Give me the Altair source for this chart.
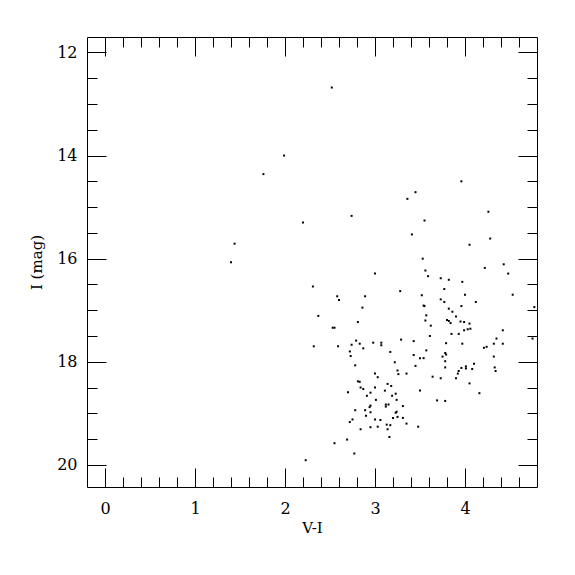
import altair as alt
import pandas as pd

vi = [2.52, 1.99, 1.76, 2.20, 1.44, 1.40, 2.31, 2.74, 3.00, 2.58, 2.60, 2.89, 2.86, 2.37,
      3.96, 3.45, 3.36, 4.26, 3.55, 3.41, 4.28, 4.05, 3.53, 4.22, 4.43, 4.48, 3.56, 3.59,
      3.73, 3.82, 3.97, 3.28, 3.77, 3.52, 4.00, 4.53, 3.73, 3.77, 4.12, 3.54, 3.55, 3.96,
      3.82, 3.86, 3.57, 3.90, 4.77, 3.56, 3.62, 3.80, 3.82, 3.84, 3.95, 3.99, 4.05, 3.99,
      4.03, 4.06, 3.85, 3.93, 3.61, 4.42, 4.35, 4.32, 4.42, 3.29, 3.43, 3.79, 3.97, 4.21,
      4.24, 3.17, 3.57, 3.43, 3.50, 3.54, 3.78, 3.79, 3.75, 3.78, 4.32, 3.22, 3.45, 3.78,
      3.96, 4.01, 4.01, 4.10, 4.08, 3.93, 3.92, 4.33, 4.34, 3.25, 3.26, 3.35, 3.64, 3.73,
      3.90, 4.05, 3.18, 3.50, 4.16, 3.19, 3.23, 3.24, 3.69, 3.78, 3.31, 3.23, 3.20, 3.25,
      3.31, 3.17, 3.35, 3.48, 4.75, 2.81, 2.53, 2.55, 2.32, 2.59, 2.74, 2.79, 2.83, 2.87,
      2.98, 3.07, 3.07, 2.72, 2.73, 2.78, 3.00, 3.03, 2.81, 2.83, 3.14, 2.84, 2.87, 3.00,
      2.70, 2.95, 3.11, 2.91, 3.01, 2.78, 2.89, 2.95, 2.94, 3.12, 3.15, 3.12, 2.95, 2.90,
      2.75, 2.72, 3.00, 3.06, 3.13, 3.14, 2.84, 2.95, 3.03, 3.16, 2.69, 2.55, 2.77, 2.23, 3.24]

imag = [12.68, 14.00, 14.36, 15.30, 15.71, 16.07, 16.54, 15.17, 16.29, 16.73, 16.80, 16.73, 16.95, 17.11,
        14.50, 14.71, 14.84, 15.09, 15.26, 15.53, 15.61, 15.73, 16.00, 16.18, 16.11, 16.29, 16.23, 16.34,
        16.38, 16.41, 16.45, 16.63, 16.59, 16.71, 16.70, 16.70, 16.79, 16.84, 16.84, 16.91, 16.92, 16.92,
        16.97, 17.03, 17.10, 17.12, 16.94, 17.20, 17.30, 17.19, 17.21, 17.25, 17.22, 17.23, 17.26, 17.39,
        17.37, 17.36, 17.46, 17.46, 17.50, 17.39, 17.55, 17.65, 17.65, 17.57, 17.60, 17.64, 17.65, 17.73,
        17.71, 17.81, 17.78, 17.87, 17.93, 17.93, 17.83, 17.86, 17.90, 17.99, 17.90, 18.01, 18.08, 18.11,
        18.12, 18.09, 18.13, 18.04, 18.14, 18.18, 18.23, 18.11, 18.18, 18.17, 18.24, 18.23, 18.29, 18.32,
        18.32, 18.42, 18.47, 18.56, 18.61, 18.66, 18.62, 18.74, 18.75, 18.76, 18.86, 18.99, 19.09, 19.07,
        19.09, 19.23, 19.20, 19.26, 17.55, 17.23, 17.34, 17.34, 17.70, 17.70, 17.67, 17.59, 17.65, 17.74,
        17.63, 17.63, 17.68, 17.80, 17.89, 18.07, 18.23, 18.30, 18.38, 18.39, 18.43, 18.50, 18.53, 18.50,
        18.59, 18.60, 18.56, 18.66, 18.74, 18.94, 18.94, 18.85, 18.88, 18.83, 18.83, 18.87, 18.98, 19.05,
        19.12, 19.17, 19.12, 19.13, 19.22, 19.31, 19.31, 19.27, 19.26, 19.46, 19.51, 19.58, 19.78, 19.91, 18.97]

x_major = [0, 1, 2, 3, 4]
x_minor = [0.2, 0.4, 0.6, 0.8, 1.2, 1.4, 1.6, 1.8, 2.2, 2.4, 2.6, 2.8,
           3.2, 3.4, 3.6, 3.8, 4.2, 4.4, 4.6]
y_major = [12, 14, 16, 18, 20]
y_minor = [12.5, 13, 13.5, 14.5, 15, 15.5, 16.5, 17, 17.5, 18.5, 19, 19.5]

df = pd.DataFrame({"vi": vi, "imag": imag})

W = 450
H = 450
FONT = "DejaVu Serif"

xs = alt.Scale(domain=[-0.2, 4.8], nice=False, zero=False)
ys = alt.Scale(domain=[11.7, 20.43], nice=False, zero=False, reverse=True)


def tick_axis(orient, values, size, offset):
    return alt.Axis(orient=orient, offset=offset, values=values, labels=False,
                    domain=False, grid=False, ticks=True, tickSize=size,
                    tickColor="black", tickWidth=1, title=None)


def axis_layer(xaxis, yaxis):
    return alt.Chart(df).mark_point(opacity=0).encode(
        x=alt.X("vi:Q", scale=xs, axis=xaxis),
        y=alt.Y("imag:Q", scale=ys, axis=yaxis),
    )


points = alt.Chart(df).mark_square(size=4, color="black", opacity=1).encode(
    x=alt.X("vi:Q", scale=xs, axis=None),
    y=alt.Y("imag:Q", scale=ys, axis=None),
)

labels = axis_layer(
    alt.Axis(orient="bottom", values=x_major, ticks=False, tickSize=0, domain=False,
             grid=False, labelFont=FONT, labelFontSize=16, labelColor="black",
             labelPadding=13, title="V-I", titleFont=FONT, titleFontSize=15,
             titleFontWeight="normal", titleColor="black", titlePadding=4),
    alt.Axis(orient="left", values=y_major, ticks=False, tickSize=0, domain=False,
             grid=False, labelFont=FONT, labelFontSize=16, labelColor="black",
             labelPadding=10, title="I (mag)", titleFont=FONT, titleFontSize=15,
             titleFontWeight="normal", titleColor="black", titlePadding=12),
)

bottom_left_major = axis_layer(tick_axis("top", x_major, 19, -H),
                               tick_axis("right", y_major, 19, -W))
bottom_left_minor = axis_layer(tick_axis("top", x_minor, 10, -H),
                               tick_axis("right", y_minor, 10, -W))
top_right_major = axis_layer(tick_axis("bottom", x_major, 19, -H),
                             tick_axis("left", y_major, 19, -W))
top_right_minor = axis_layer(tick_axis("bottom", x_minor, 10, -H),
                             tick_axis("left", y_minor, 10, -W))

chart = alt.layer(
    points, labels, bottom_left_major, bottom_left_minor, top_right_major, top_right_minor
).resolve_axis(
    x="independent", y="independent"
).properties(
    width=W, height=H,
    autosize=alt.AutoSizeParams(type="none"),
    padding={"left": 79, "top": 29, "right": 30, "bottom": 50},
    background="white",
).configure_view(
    stroke="black", strokeWidth=1
)

chart.save("out.html", embed_options={"renderer": "svg", "actions": False})
